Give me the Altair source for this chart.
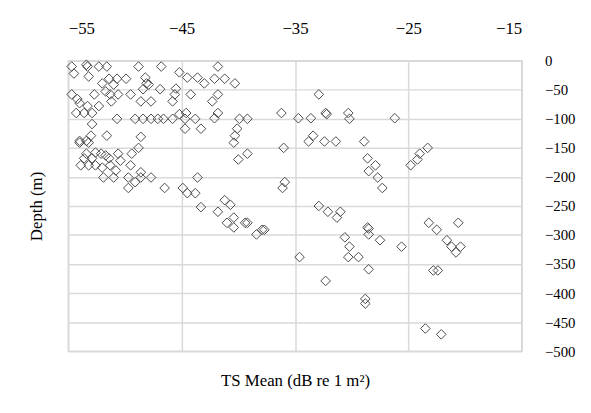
import altair as alt
import pandas as pd

# TS mean (dB re 1 m^2) and depth (m)
ts_mean = [
    -54.7, -54.5, -53.4, -53.3, -53.2, -52.3, -51.6, -48.8, -46.8, -45.2,
    -41.8, -44.5, -43.6, -43.0, -42.1, -41.2, -40.3, -52.0, -51.4, -50.7,
    -49.9, -51.0, -48.2, -48.1, -47.9, -48.4, -46.9, -45.5, -45.6, -44.2,
    -41.8, -54.7, -54.2, -54.0, -52.7, -51.7, -51.3, -50.6, -49.5, -51.2,
    -48.6, -47.7, -45.8, -42.3, -53.3, -52.3, -54.3, -53.6, -52.9, -44.6,
    -41.8, -42.1, -50.7, -49.1, -48.4, -47.7, -47.1, -46.6, -45.8, -45.2,
    -44.7, -43.8, -39.9, -39.2, -52.9, -44.7, -43.3, -40.1, -40.3, -40.4,
    -53.0, -51.6, -54.0, -53.4, -48.6,
    -54.0, -53.2, -48.8, -49.4, -50.6, -53.4, -52.6, -52.1, -51.7, -53.6,
    -52.9, -51.4, -50.4, -53.9, -53.2, -52.6, -52.0, -51.3, -50.8, -49.5,
    -48.6, -51.9, -51.0, -49.7, -48.6, -47.7, -49.1, -49.7, -46.5, -44.9,
    -44.5, -43.8, -43.6, -43.3, -41.8, -41.2, -40.7, -40.4, -41.0, -40.4,
    -39.4, -39.2, -40.0, -39.2, -38.4, -37.9, -37.7,
    -28.6, -28.5, -30.3, -29.4, -28.5, -34.6, -32.3, -28.8, -28.8,
    -32.9, -36.2, -34.7, -33.6, -32.3, -32.2, -30.3, -30.2, -26.2, -33.4,
    -33.8, -32.4, -31.4, -28.9, -36.0, -28.6, -27.9, -28.5, -27.7, -27.3,
    -24.8, -24.2, -24.0, -23.3, -35.9, -36.1, -32.9, -32.1, -31.0, -31.3,
    -28.5, -30.6, -27.5, -23.2, -22.5, -20.6, -21.6, -30.2,
    -25.6, -21.2, -20.4, -20.8, -22.8, -22.4, -23.5, -22.1,
]
depth = [
    -10, -22, -7, -10, -27, -10, -10, -10, -10, -20,
    -10, -29, -29, -39, -31, -31, -39, -39, -31, -31,
    -31, -41, -29, -39, -41, -49, -49, -48, -58, -58,
    -58, -58, -66, -73, -58, -53, -58, -58, -58, -70,
    -70, -70, -70, -70, -78, -78, -90, -90, -90, -90,
    -90, -99, -100, -100, -100, -100, -100, -100, -100, -92,
    -100, -100, -100, -100, -109, -117, -117, -117, -129, -141,
    -129, -129, -138, -138, -131,
    -141, -141, -150, -160, -160, -160, -158, -160, -163, -168,
    -168, -168, -172, -180, -180, -180, -184, -180, -189, -180,
    -192, -201, -201, -201, -201, -201, -209, -219, -219, -219,
    -228, -228, -201, -252, -260, -240, -248, -270, -279, -287,
    -279, -279, -170, -160, -299, -291, -291,
    -287, -299, -338, -338, -359, -338, -379, -410, -418,
    -58, -90, -99, -99, -90, -92, -90, -100, -99, -129,
    -139, -139, -139, -139, -150, -168, -180, -190, -201, -219,
    -180, -170, -160, -150, -209, -219, -250, -260, -260, -270,
    -289, -304, -309, -279, -291, -279, -309, -320,
    -320, -320, -320, -330, -361, -361, -461, -471,
]

x_ticks = [-55, -45, -35, -25, -15]
y_ticks = [0, -50, -100, -150, -200, -250, -300, -350, -400, -450, -500]

df = pd.DataFrame({"ts": ts_mean, "depth": depth})

FONT = "Liberation Serif"
W, H = 459, 294

chart = (
    alt.Chart(df)
    .mark_point(shape="diamond", filled=False, size=95, color="#4a4a4a", strokeWidth=1, opacity=1)
    .encode(
        x=alt.X(
            "ts:Q",
            scale=alt.Scale(domain=[-55, -15], nice=False, zero=False),
            axis=alt.Axis(
                orient="top",
                values=x_ticks,
                title="TS Mean (dB re 1 m²)",
                titleX=W / 2,
                titleY=324,
                titleAngle=0,
                titleAlign="center",
                titleBaseline="middle",
                titleFont=FONT,
                titleFontSize=17,
                titleFontWeight="normal",
                titleColor="#000000",
                labelFont=FONT,
                labelFontSize=17,
                labelColor="#000000",
                labelPadding=24,
                ticks=False,
                tickSize=0,
                domain=False,
                grid=True,
                gridColor="#d9d9d9",
                gridWidth=1.5,
            ),
        ),
        y=alt.Y(
            "depth:Q",
            scale=alt.Scale(domain=[-500, 0], nice=False, zero=False),
            axis=alt.Axis(
                orient="right",
                values=y_ticks,
                title="Depth (m)",
                titleX=37 - (69 + W),
                titleY=H / 2,
                titleAngle=270,
                titleAlign="center",
                titleBaseline="middle",
                titleFont=FONT,
                titleFontSize=17,
                titleFontWeight="normal",
                titleColor="#000000",
                labelFont=FONT,
                labelFontSize=15,
                labelColor="#000000",
                labelAlign="left",
                labelBaseline="middle",
                labelPadding=23,
                ticks=False,
                tickSize=0,
                domain=False,
                grid=True,
                gridColor="#d9d9d9",
                gridWidth=1.5,
            ),
        ),
    )
    .properties(
        width=W,
        height=H,
        autosize=alt.AutoSizeParams(type="none"),
        padding={"left": 61, "top": 51, "right": 62, "bottom": 46},
        background="white",
    )
    .configure_view(stroke="#d9d9d9", strokeWidth=1.5)
)

chart.save("out.html", embed_options={"renderer": "svg", "actions": False})
